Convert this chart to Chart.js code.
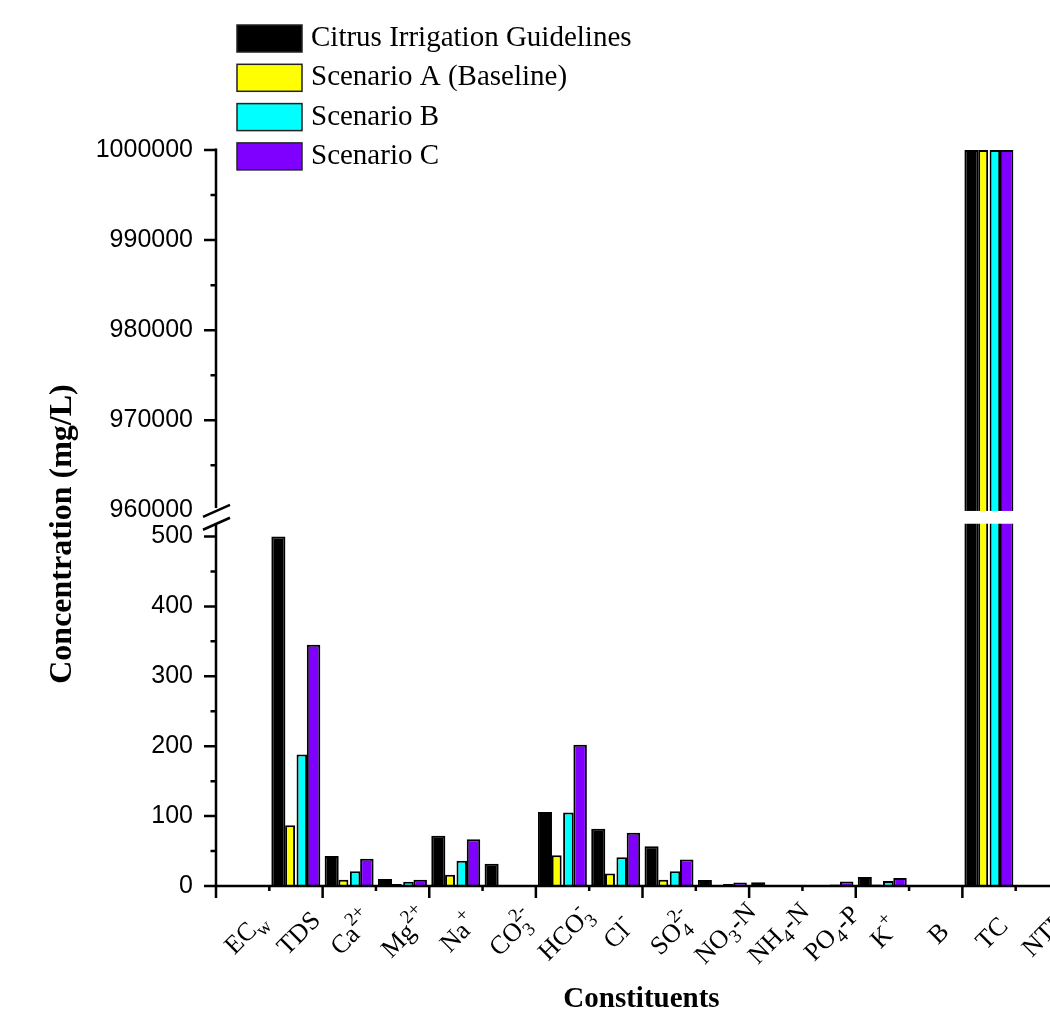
<!DOCTYPE html>
<html>
<head>
<meta charset="utf-8">
<script src="https://cdn.jsdelivr.net/npm/chart.js@4.4.1/dist/chart.umd.min.js"></script>
<style>
  html, body { margin: 0; padding: 0; background: #ffffff; overflow: hidden; }
  #wrap { position: absolute; left: 0; top: 0; width: 1120px; height: 1013px; }
</style>
</head>
<body>
<div id="wrap"><canvas id="chart"></canvas></div>
<script>
// Constituent names: ^{..} is a superscript, _{..} a subscript
const categories = ['EC_{w}', 'TDS', 'Ca^{2+}', 'Mg^{2+}', 'Na^{+}', 'CO^{2-}_{3}', 'HCO^{-}_{3}', 'Cl^{-}',
  'SO^{2-}_{4}', 'NO_{3}-N', 'NH_{4}-N', 'PO_{4}-P', 'K^{+}', 'B', 'TC', 'NTU'];

const seriesNames = ['Citrus Irrigation Guidelines', 'Scenario A (Baseline)', 'Scenario B', 'Scenario C'];
const seriesColors = ['#000000', '#ffff00', '#00ffff', '#8000ff'];

// Concentrations (mg/L)
const guidelines = [1.2, 500, 43, 10, 72, 32, 106, 82, 57, 8.5, 5.5, 1, 13, 0.8, 1000000, 1.5];
const scenarioA  = [0.3, 87, 9, 3, 16, 0, 44, 18, 9, 1, 0.3, 1, 2, 0.2, 1000000, 0.5];
const scenarioB  = [0.6, 188, 21, 6, 36, 0, 105, 41, 21, 3, 0.4, 2, 7, 0.3, 1000000, 1.5];
const scenarioC  = [0.9, 345, 39, 9, 67, 0, 202, 76, 38, 5, 0.5, 6.5, 11.5, 0.4, 1000000, 1];

// Broken value axis: two linear segments
const lowerRange = [0, 500];
const upperRange = [960000, 1000000];
const lowerTicks = [0, 100, 200, 300, 400, 500];
const upperTicks = [960000, 970000, 980000, 990000, 1000000];

const LOW_FRAC = 0.4749;   // share of the plot height for the lower segment
const GAP_FRAC = 0.0355;   // share taken by the break

class BrokenLinearScale extends Chart.LinearScale {
  static id = 'brokenLinear';
  static defaults = {};

  buildTicks() {
    const ticks = [];
    const addSegment = (majors) => {
      for (let i = 0; i < majors.length; i++) {
        ticks.push({ value: majors[i], major: true });
        if (i < majors.length - 1) ticks.push({ value: (majors[i] + majors[i + 1]) / 2, major: false });
      }
    };
    addSegment(lowerTicks);
    addSegment(upperTicks);
    return ticks;
  }

  _heights() {
    const h = this.bottom - this.top;
    const low = h * LOW_FRAC, gap = h * GAP_FRAC;
    return { low, gap, high: h - low - gap };
  }

  getPixelForValue(value) {
    const { low, gap, high } = this._heights();
    if (value <= lowerRange[1]) {
      return this.bottom - (value - lowerRange[0]) / (lowerRange[1] - lowerRange[0]) * low;
    }
    if (value < upperRange[0]) {
      return this.bottom - low - (value - lowerRange[1]) / (upperRange[0] - lowerRange[1]) * gap;
    }
    return this.bottom - low - gap - (value - upperRange[0]) / (upperRange[1] - upperRange[0]) * high;
  }

  getValueForPixel(pixel) {
    const { low, gap, high } = this._heights();
    const d = this.bottom - pixel;
    if (d <= low) return lowerRange[0] + d / low * (lowerRange[1] - lowerRange[0]);
    if (d <= low + gap) return lowerRange[1] + (d - low) / gap * (upperRange[0] - lowerRange[1]);
    return upperRange[0] + (d - low - gap) / high * (upperRange[1] - upperRange[0]);
  }
}
Chart.register(BrokenLinearScale);

const SERIF = "'Liberation Serif', 'Times New Roman', serif";
const SANS = "'Liberation Sans', Arial, sans-serif";
const LABEL_SIZE = 26, SCRIPT_SIZE = 19;

function parseRich(s) {
  const parts = [];
  const re = /\^\{([^}]*)\}|_\{([^}]*)\}|([^^_]+)/g;
  let m;
  while ((m = re.exec(s))) {
    if (m[1] !== undefined) parts.push({ t: m[1], k: 'sup' });
    else if (m[2] !== undefined) parts.push({ t: m[2], k: 'sub' });
    else parts.push({ t: m[3], k: 'n' });
  }
  return parts;
}
const plainText = (s) => parseRich(s).map(p => p.t).join('');

function layoutRich(ctx, s) {
  const parts = parseRich(s);
  const items = [];
  let x = 0;
  parts.forEach((p, i) => {
    const font = p.k === 'n' ? `${LABEL_SIZE}px ${SERIF}` : `${SCRIPT_SIZE}px ${SERIF}`;
    ctx.font = font;
    const w = ctx.measureText(p.t).width;
    const dy = p.k === 'sup' ? -13 : p.k === 'sub' ? 7 : 0;
    if (p.k === 'sub' && i > 0 && parts[i - 1].k === 'sup') {
      const prev = items[items.length - 1];
      items.push({ t: p.t, font, x: prev.x, dy, w });
      x = prev.x + Math.max(prev.w, w);
    } else {
      items.push({ t: p.t, font, x, dy, w });
      x += w;
    }
  });
  return { items, width: x };
}

function breakPixels(y) {
  const top = y.getPixelForValue(upperRange[0]);
  return { top: top + 0.6, bottom: top + 13.4 };
}

const brokenAxesPlugin = {
  id: 'brokenAxes',
  afterDatasetsDraw(chart) {
    const { ctx, chartArea: a, scales: { y } } = chart;
    const br = breakPixels(y);
    ctx.save();
    ctx.fillStyle = '#ffffff';
    ctx.fillRect(a.left + 2, br.top, a.right - a.left, br.bottom - br.top);
    ctx.restore();
  },
  afterDraw(chart) {
    const { ctx, chartArea: a, scales: { x, y } } = chart;
    const br = breakPixels(y);
    const axisX = a.left;
    const y0 = y.getPixelForValue(0);
    ctx.save();
    ctx.strokeStyle = '#000';
    ctx.lineWidth = 2.5;
    ctx.lineCap = 'butt';

    // value axis, in two pieces
    ctx.beginPath();
    ctx.moveTo(axisX, y.getPixelForValue(upperRange[1]) - 1.5);
    ctx.lineTo(axisX, br.top - 3);
    ctx.moveTo(axisX, br.bottom + 1);
    ctx.lineTo(axisX, y0 + 1.25);
    ctx.stroke();

    // value ticks
    ctx.beginPath();
    y.ticks.forEach(t => {
      if (t.value === upperRange[0]) return;
      const py = y.getPixelForValue(t.value);
      const len = t.major ? 12 : 5.5;
      ctx.moveTo(axisX - len, py);
      ctx.lineTo(axisX, py);
    });
    ctx.stroke();

    // break marks
    ctx.beginPath();
    [br.top, br.bottom].forEach(py => {
      ctx.moveTo(axisX - 13, py + 6);
      ctx.lineTo(axisX + 14, py - 6);
    });
    ctx.stroke();

    // category axis
    ctx.beginPath();
    ctx.moveTo(axisX - 1.25, y0);
    ctx.lineTo(a.right + 10, y0);
    const step = x.getPixelForValue(1) - x.getPixelForValue(0);
    for (let i = 0; i <= categories.length; i++) {
      const px = x.getPixelForValue(0) - step / 2 + i * step;
      ctx.moveTo(px, y0);
      ctx.lineTo(px, y0 + (i % 2 === 0 ? 12 : 5));
    }
    ctx.stroke();

    // category labels, rotated 45 degrees
    ctx.fillStyle = '#000';
    ctx.textBaseline = 'alphabetic';
    ctx.textAlign = 'left';
    categories.forEach((c, i) => {
      const { items, width } = layoutRich(ctx, c);
      const cx = x.getPixelForValue(i) + 8.5;
      ctx.save();
      ctx.translate(cx, 939);
      ctx.rotate(-Math.PI / 4);
      items.forEach(it => {
        ctx.font = it.font;
        ctx.fillText(it.t, it.x - width / 2, it.dy);
      });
      ctx.restore();
    });

    // axis titles
    ctx.textAlign = 'center';
    ctx.font = `bold 29px ${SERIF}`;
    ctx.fillText('Constituents', 641.5, 1007);
    ctx.save();
    ctx.translate(62.5, 534);
    ctx.rotate(-Math.PI / 2);
    ctx.textBaseline = 'middle';
    ctx.font = `bold 32px ${SERIF}`;
    ctx.fillText('Concentration (mg/L)', 0, 0);
    ctx.restore();

    // legend
    ctx.textAlign = 'left';
    ctx.textBaseline = 'middle';
    ctx.font = `29px ${SERIF}`;
    chart.data.datasets.forEach((ds, i) => {
      const top = 25 + i * 39.3;
      ctx.fillStyle = ds.backgroundColor;
      ctx.fillRect(237, top, 65, 27);
      ctx.lineWidth = 1.5;
      ctx.strokeStyle = '#222';
      ctx.strokeRect(237, top, 65, 27);
      ctx.fillStyle = '#000';
      ctx.fillText(ds.label, 311, top + 13.5);
    });
    ctx.restore();
  }
};

const seriesValues = [guidelines, scenarioA, scenarioB, scenarioC];
const barShares = [1.2, 0.85, 0.9, 1.15];

new Chart(document.getElementById('chart'), {
  type: 'bar',
  data: {
    labels: categories.map(plainText),
    datasets: seriesValues.map((vals, i) => ({
      label: seriesNames[i],
      data: vals,
      backgroundColor: seriesColors[i],
      borderColor: '#000000',
      borderWidth: 2,
      barPercentage: barShares[i],
      categoryPercentage: 0.88
    }))
  },
  options: {
    responsive: true,
    maintainAspectRatio: false,
    animation: false,
    devicePixelRatio: 1,
    events: [],
    layout: { padding: { left: 0, top: 150, right: 51, bottom: 0 } },
    plugins: { legend: { display: false }, tooltip: { enabled: false } },
    scales: {
      x: {
        type: 'category',
        offset: true,
        grid: { display: false, drawTicks: false },
        border: { display: false },
        ticks: { display: false },
        afterFit(s) { s.height = 127; }
      },
      y: {
        type: 'brokenLinear',
        min: 0,
        max: upperRange[1],
        grid: { display: false, drawTicks: false },
        border: { display: false },
        ticks: {
          autoSkip: false,
          padding: 23,
          color: '#000000',
          font: { family: SANS, size: 25 },
          callback: (v, i, ticks) => (ticks[i].major ? String(v) : '')
        },
        afterFit(s) { s.width = 216; }
      }
    }
  },
  plugins: [brokenAxesPlugin]
});
</script>
</body>
</html>
